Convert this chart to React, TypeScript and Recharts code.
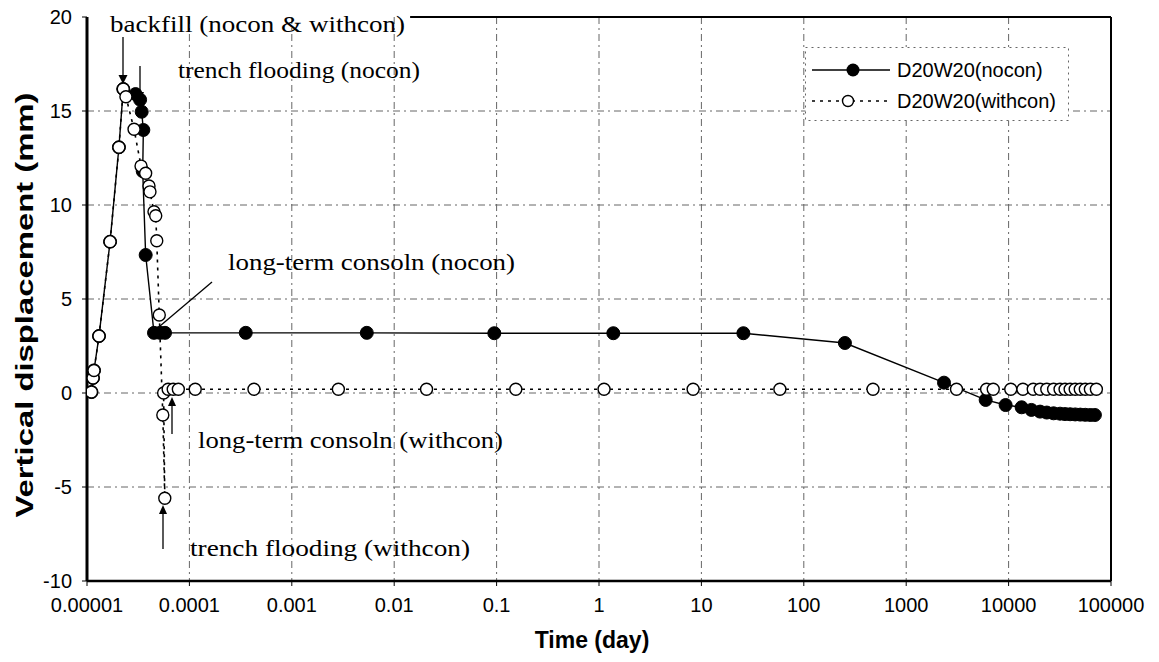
import React from 'react';
import { LineChart, Line, XAxis, YAxis, CartesianGrid, Legend, ReferenceLine } from 'recharts';

// ticks
const xTicks = [1e-5, 1e-4, 1e-3, 0.01, 0.1, 1, 10, 100, 1000, 10000, 100000];
const xTickLabels = ['0.00001', '0.0001', '0.001', '0.01', '0.1', '1', '10', '100', '1000', '10000', '100000'];
const yTicks = [-10, -5, 0, 5, 10, 15, 20];

// D20W20(nocon) - time (day) / vertical displacement (mm)
const noconTime = [
  1.106e-5, 1.145e-5, 1.17e-5, 1.31e-5, 1.68e-5, 2.05e-5, 2.26e-5, 2.98e-5, 3.3e-5, 3.42e-5, 3.55e-5, 3.5e-5,
  3.74e-5, 4.51e-5, 5.17e-5, 5.78e-5, 3.55e-4, 5.4e-3, 0.095, 1.38, 25.7, 252, 2340, 5970, 9350, 13400, 16700,
  20300, 23600, 27500, 31800, 35600, 39900, 44700, 50100, 56100, 62900, 69600,
];
const noconDisp = [
  0.05, 0.8, 1.2, 3.03, 8.05, 13.07, 16.17, 15.9, 15.6, 14.96, 13.99, 11.8,
  7.34, 3.2, 3.2, 3.2, 3.2, 3.2, 3.18, 3.18, 3.18, 2.66, 0.55, -0.37, -0.64, -0.76, -0.9,
  -0.99, -1.04, -1.08, -1.1, -1.12, -1.13, -1.14, -1.15, -1.16, -1.17, -1.17,
];

// D20W20(withcon)
const withconTime = [
  1.106e-5, 1.145e-5, 1.17e-5, 1.31e-5, 1.68e-5, 2.05e-5, 2.26e-5, 2.4e-5, 2.88e-5, 3.37e-5, 3.74e-5, 4.03e-5,
  4.12e-5, 4.51e-5, 4.69e-5, 4.8e-5, 5.08e-5, 5.5e-5, 5.75e-5, 5.6e-5, 6.2e-5, 6.95e-5, 7.8e-5, 1.14e-4, 4.27e-4,
  2.85e-3, 0.0207, 0.154, 1.12, 8.3, 58.4, 474, 3100, 6100, 7080, 10500, 13800, 17400, 20300, 23600, 27500,
  31800, 35600, 39900, 44700, 50100, 56100, 62900, 72000,
];
const withconDisp = [
  0.05, 0.8, 1.2, 3.03, 8.05, 13.07, 16.17, 15.76, 14.03, 12.07, 11.69, 11.01,
  10.7, 9.64, 9.43, 8.1, 4.15, -1.17, -5.6, 0.0, 0.2, 0.2, 0.2, 0.2, 0.2,
  0.2, 0.2, 0.2, 0.2, 0.2, 0.2, 0.2, 0.2, 0.2, 0.2, 0.2, 0.2, 0.2, 0.2, 0.2, 0.2,
  0.2, 0.2, 0.2, 0.2, 0.2, 0.2, 0.2, 0.2,
];

const nocon = noconTime.map((t, i) => ({ t, v: noconDisp[i] }));
const withcon = withconTime.map((t, i) => ({ t, v: withconDisp[i] }));

const sans = '"Liberation Sans", Arial, sans-serif';
const serif = '"Liberation Serif", "Times New Roman", serif';

const fmtX = (v: number) => {
  const i = xTicks.findIndex((x) => Math.abs(Math.log10(x) - Math.log10(v)) < 1e-6);
  return i >= 0 ? xTickLabels[i] : String(v);
};

function LegendBox() {
  return (
    <svg width={264} height={74} style={{ display: 'block' }}>
      <rect x={0.5} y={0.5} width={263} height={73} fill="#fff" stroke="#666" strokeDasharray="2 4" />
      <line x1={7} y1={23} x2={85} y2={23} stroke="#000" strokeWidth={1.5} />
      <circle cx={48} cy={23} r={6.5} fill="#000" />
      <text x={92} y={30} fontFamily={sans} fontSize={20}>D20W20(nocon)</text>
      <line x1={7} y1={54} x2={85} y2={54} stroke="#000" strokeWidth={1.6} strokeDasharray="3 5" />
      <circle cx={43} cy={54} r={5.5} fill="#fff" stroke="#000" strokeWidth={1.4} />
      <text x={92} y={61} fontFamily={sans} fontSize={20}>D20W20(withcon)</text>
    </svg>
  );
}

function Notes() {
  const t = { fontFamily: serif, fontSize: 24, fill: '#000' } as const;
  return (
    <svg width={1159} height={662} style={{ position: 'absolute', left: 0, top: 0, pointerEvents: 'none' }}>
      <text {...t} x={110} y={32} textLength={295} lengthAdjust="spacingAndGlyphs">backfill (nocon &amp; withcon)</text>
      <line x1={123} y1={37} x2={123} y2={76} stroke="#000" strokeWidth={1.3} />
      <polygon points="118.5,75 127.5,75 123,84" fill="#000" />

      <text {...t} x={178} y={78} textLength={242} lengthAdjust="spacingAndGlyphs">trench flooding (nocon)</text>
      <line x1={140} y1={66} x2={140} y2={93} stroke="#000" strokeWidth={1.3} />
      <polygon points="136,92 144,92 140,101" fill="#000" />

      <text {...t} x={228} y={270} textLength={287} lengthAdjust="spacingAndGlyphs">long-term consoln (nocon)</text>
      <line x1={160} y1={326} x2={212} y2={282} stroke="#000" strokeWidth={1.3} />

      <text {...t} x={198} y={448} textLength={305} lengthAdjust="spacingAndGlyphs">long-term consoln (withcon)</text>
      <line x1={172} y1={434} x2={172} y2={404} stroke="#000" strokeWidth={1.3} />
      <polygon points="168,406 176,406 172,397" fill="#000" />

      <text {...t} x={190} y={556} textLength={280} lengthAdjust="spacingAndGlyphs">trench flooding (withcon)</text>
      <line x1={163} y1={549} x2={163} y2={512} stroke="#000" strokeWidth={1.3} />
      <polygon points="159,514 167,514 163,505" fill="#000" />

      <text x={592} y={648} textAnchor="middle" fontFamily={sans} fontSize={23} fontWeight="bold">Time (day)</text>
      <text
        x={0}
        y={0}
        transform="translate(33,305) rotate(-90)"
        textAnchor="middle"
        fontFamily={sans}
        fontSize={23}
        fontWeight="bold"
        textLength={425}
        lengthAdjust="spacingAndGlyphs"
      >
        Vertical displacement (mm)
      </text>
    </svg>
  );
}

export default function App() {
  return (
    <div style={{ position: 'absolute', left: 0, top: 0, width: 1159, height: 662, background: '#fff' }}>
      <LineChart width={1159} height={662} margin={{ top: 17, right: 48, bottom: 31, left: 27 }}>
        <CartesianGrid
          stroke="#666"
          strokeDasharray="7 4 2 4"
          horizontalValues={[-5, 0, 5, 10, 15]}
          verticalValues={[1e-4, 1e-3, 0.01, 0.1, 1, 10, 100, 1000, 10000]}
        />
        <XAxis
          dataKey="t"
          type="number"
          scale="log"
          domain={[1e-5, 1e5]}
          ticks={xTicks}
          tickFormatter={fmtX}
          allowDataOverflow
          height={50}
          axisLine={{ stroke: '#000', strokeWidth: 2.5 }}
          tickLine={{ stroke: '#000' }}
          tickSize={5}
          tickMargin={12}
          tick={{ fill: '#000', fontFamily: sans, fontSize: 20 }}
        />
        <YAxis
          dataKey="v"
          type="number"
          domain={[-10, 20]}
          ticks={yTicks}
          width={60}
          axisLine={{ stroke: '#000', strokeWidth: 3 }}
          tickLine={{ stroke: '#000' }}
          tickSize={5}
          tickMargin={10}
          tick={{ fill: '#000', fontFamily: sans, fontSize: 20 }}
        />
        <ReferenceLine x={100000} stroke="#000" strokeWidth={2} />
        <ReferenceLine
          segment={[{ x: 0.0143, y: 20 }, { x: 100000, y: 20 }]}
          stroke="#000"
          strokeWidth={2}
        />
        <Legend
          layout="horizontal"
          verticalAlign="middle"
          align="center"
          content={() => <LegendBox />}
          wrapperStyle={{ position: 'absolute', left: 805, top: 47, width: 264, height: 74 }}
        />
        <Line
          data={nocon}
          dataKey="v"
          name="D20W20(nocon)"
          type="linear"
          stroke="#000"
          strokeWidth={1.4}
          dot={{ r: 6.5, fill: '#000', stroke: '#000', strokeWidth: 1 }}
          isAnimationActive={false}
        />
        <Line
          data={withcon}
          dataKey="v"
          name="D20W20(withcon)"
          type="linear"
          stroke="#000"
          strokeWidth={1.6}
          strokeDasharray="3 5"
          dot={{ r: 6, fill: '#fff', stroke: '#000', strokeWidth: 1.4, strokeDasharray: '0' }}
          isAnimationActive={false}
        />
      </LineChart>
      <Notes />
    </div>
  );
}
